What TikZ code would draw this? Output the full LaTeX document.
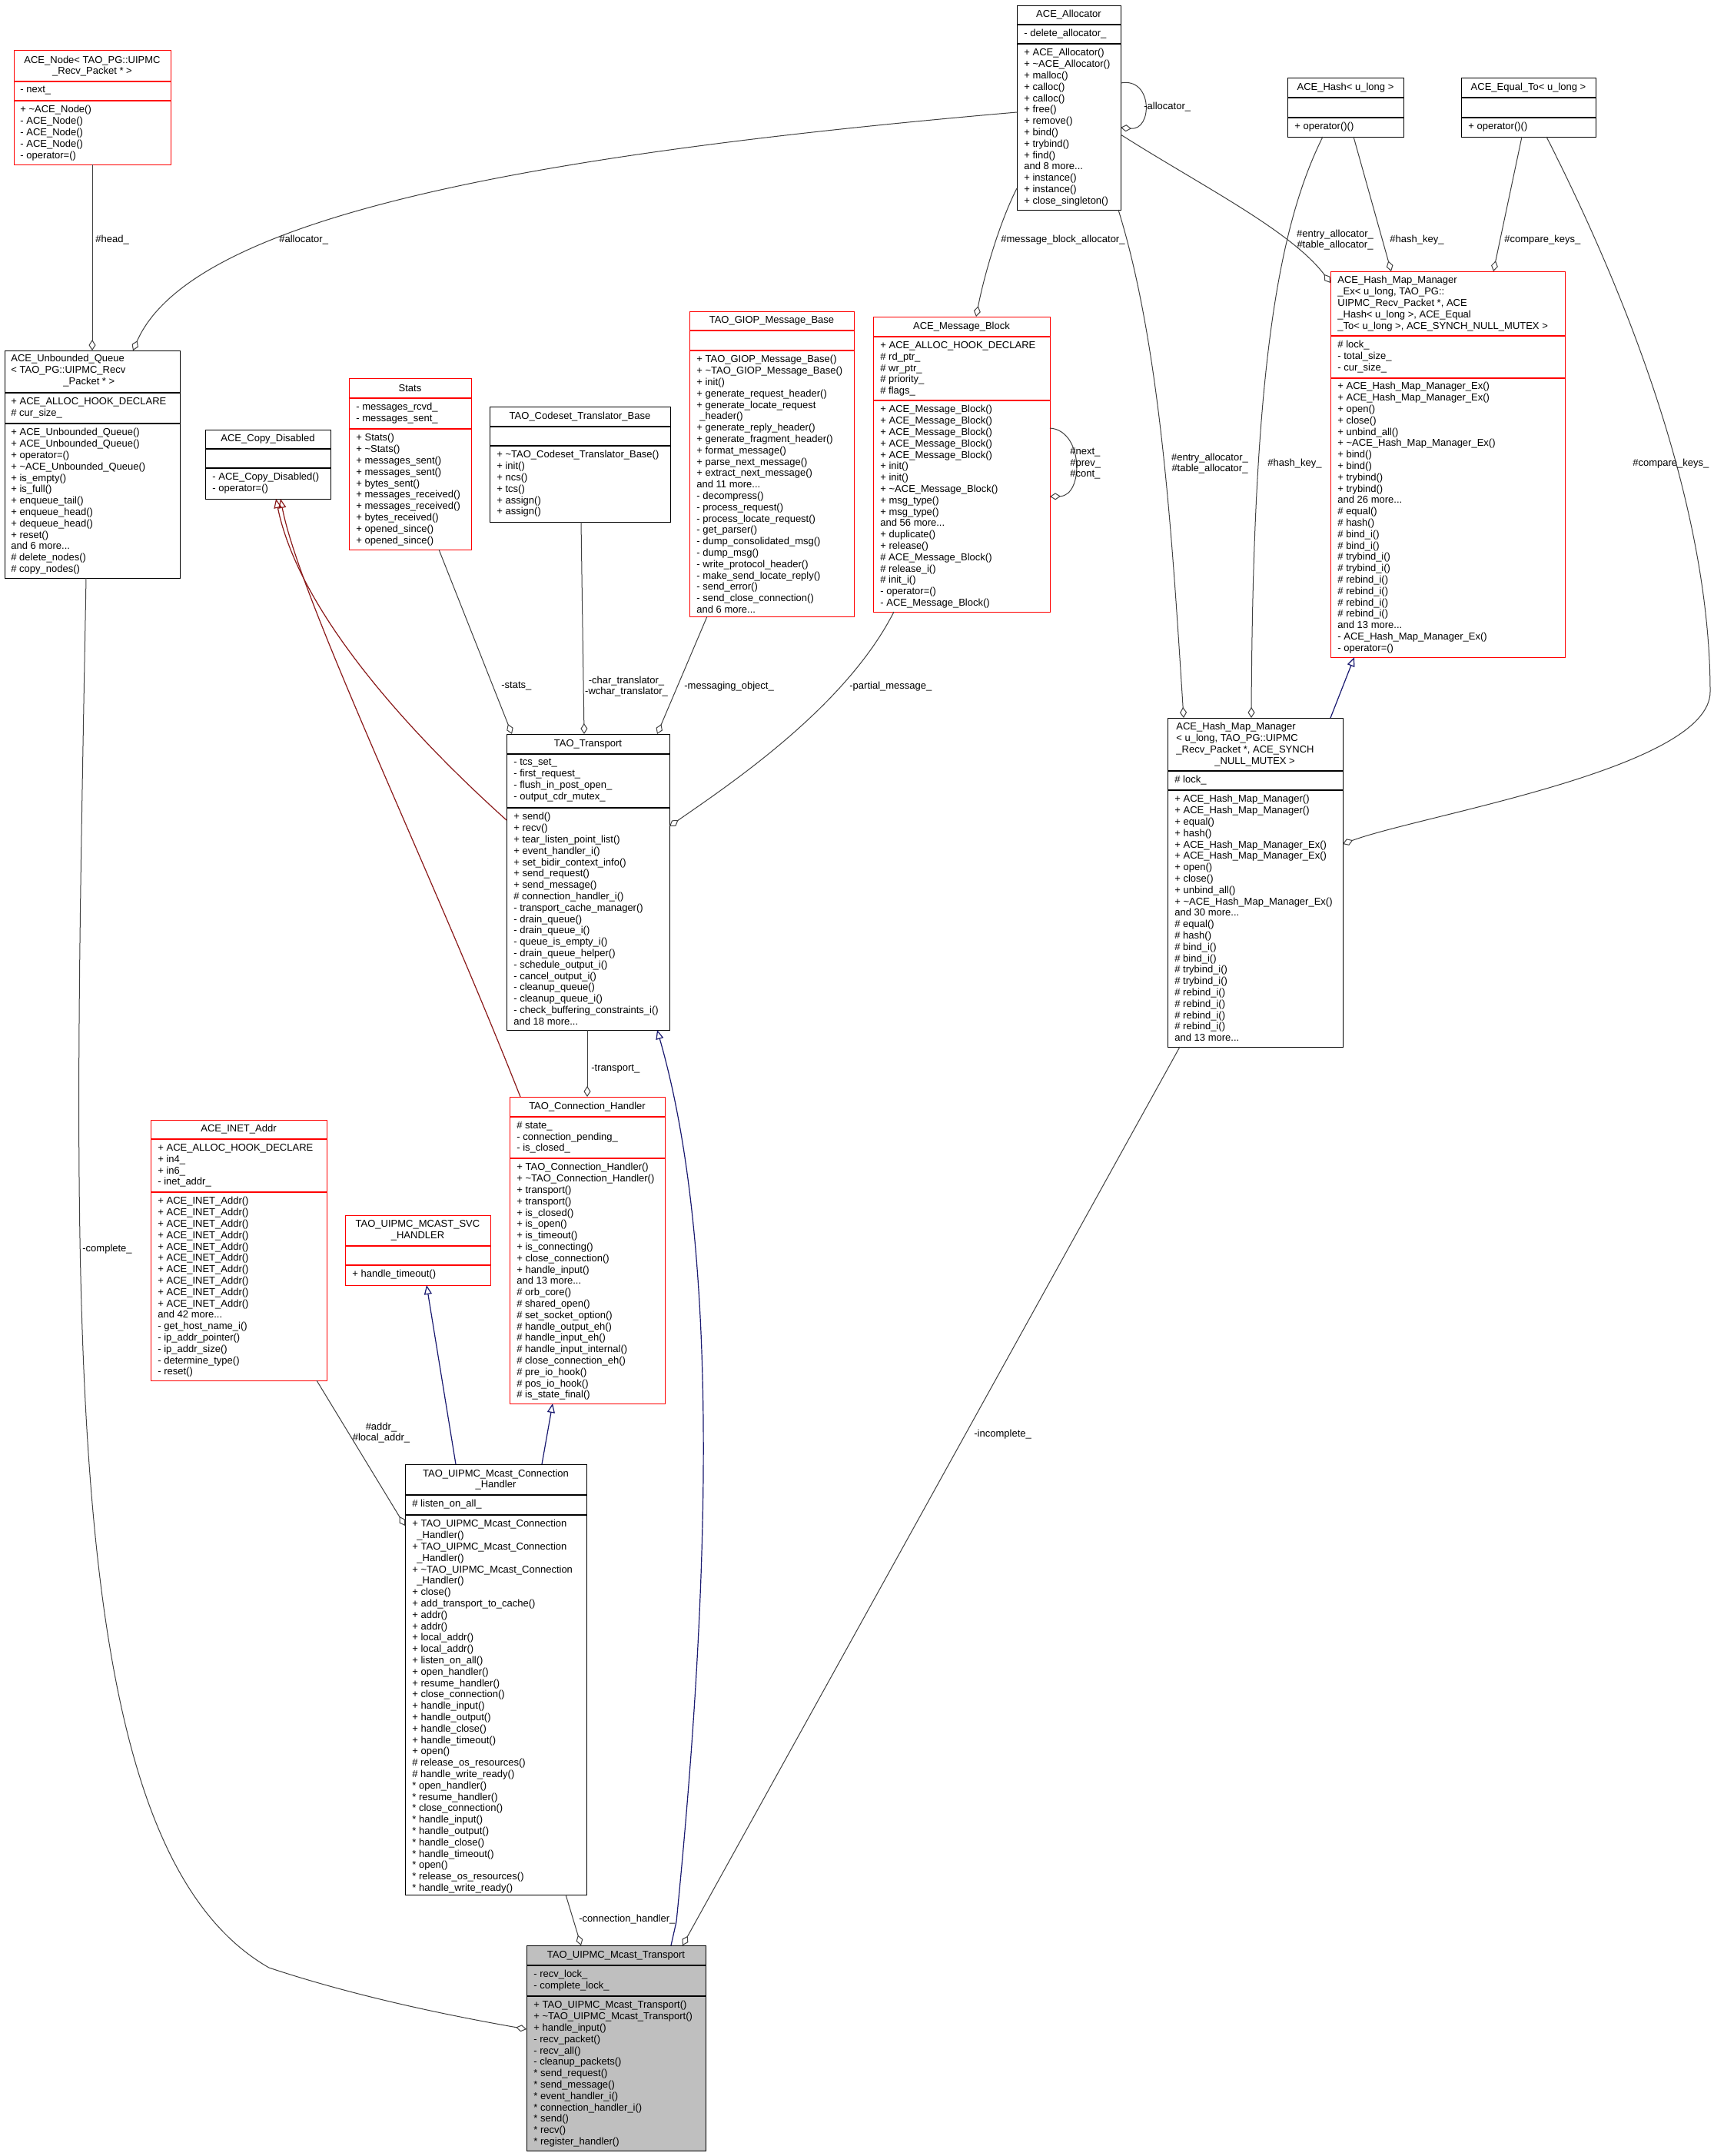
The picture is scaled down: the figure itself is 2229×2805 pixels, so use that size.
\documentclass[tikz,border=0pt]{standalone}
\usepackage{fontspec}
\setmainfont{Liberation Sans}
\usetikzlibrary{arrows.meta,calc}
\definecolor{edgec}{HTML}{404040}
\definecolor{blueedge}{HTML}{191970}
\definecolor{rededge}{HTML}{8B1A1A}
\definecolor{gfill}{HTML}{BFBFBF}
\newcommand\fs{\fontsize{6.5}{7.4}\selectfont}
\newcommand\tl{\textasciitilde}
\newcommand\cls[9]{%
 \node[draw=#8,fill=#9,line width=0.7pt,inner sep=0,anchor=north west,minimum width={(#4-#2)*0.5pt},minimum height={(#5-#3)*0.5pt}] (#1) at (#2,#3) {};
 \draw[#8,line width=0.7pt] (#2,#6) -- (#4,#6) (#2,#7) -- (#4,#7);}
\begin{document}
\begin{tikzpicture}[x=0.5pt,y=-0.5pt,
 tx/.style={anchor=north west,inner sep=0,align=left,font=\fs},
 ttl/.style={anchor=center,inner sep=0,align=center,font=\fs},
 lbl/.style={inner sep=0,align=center,font=\fs},
 agg/.style={draw=edgec,line width=0.5pt,-{Diamond[open,length=7pt,width=4.5pt]}},
 inhb/.style={draw=blueedge,line width=0.6pt,-{Triangle[open,length=6pt,width=5pt]}},
 inhr/.style={draw=rededge,line width=0.6pt,-{Triangle[open,length=6pt,width=5pt]}}]
\path[use as bounding box,fill=white] (0,0) rectangle (2229,2805);

% ---- boxes
\cls{Node}{18}{65}{222}{214}{106}{131}{red}{white}
\node[ttl] at (120,86) {ACE\_Node< TAO\_PG::UIPMC\\\_Recv\_Packet * >};
\node[tx] at (26,112) {- next\_};
\node[tx] at (26,137) {+ \tl ACE\_Node()\\- ACE\_Node()\\- ACE\_Node()\\- ACE\_Node()\\- operator=()};

\cls{UQ}{6}{456}{234}{752}{511}{551}{black}{white}
\node[tx] at (14,461) {ACE\_Unbounded\_Queue\\< TAO\_PG::UIPMC\_Recv\\\hspace*{34pt}\_Packet * >};
\node[tx] at (14,517) {+ ACE\_ALLOC\_HOOK\_DECLARE\\\# cur\_size\_};
\node[tx] at (14,557) {+ ACE\_Unbounded\_Queue()\\+ ACE\_Unbounded\_Queue()\\+ operator=()\\+ \tl ACE\_Unbounded\_Queue()\\+ is\_empty()\\+ is\_full()\\+ enqueue\_tail()\\+ enqueue\_head()\\+ dequeue\_head()\\+ reset()\\and 6 more...\\\# delete\_nodes()\\\# copy\_nodes()};

\cls{CD}{267}{559}{430}{649}{584}{609}{black}{white}
\node[ttl] at (348.5,571.5) {ACE\_Copy\_Disabled};
\node[tx] at (276,615) {- ACE\_Copy\_Disabled()\\- operator=()};

\cls{Stats}{454}{492}{613}{715}{518}{558}{red}{white}
\node[ttl] at (533.5,505) {Stats};
\node[tx] at (463,524) {- messages\_rcvd\_\\- messages\_sent\_};
\node[tx] at (463,564) {+ Stats()\\+ \tl Stats()\\+ messages\_sent()\\+ messages\_sent()\\+ bytes\_sent()\\+ messages\_received()\\+ messages\_received()\\+ bytes\_received()\\+ opened\_since()\\+ opened\_since()};

\cls{Codeset}{637}{529}{872}{679}{555}{580}{black}{white}
\node[ttl] at (754.5,542) {TAO\_Codeset\_Translator\_Base};
\node[tx] at (646,586) {+ \tl TAO\_Codeset\_Translator\_Base()\\+ init()\\+ ncs()\\+ tcs()\\+ assign()\\+ assign()};

\cls{GIOP}{897}{405}{1111}{802}{430}{456}{red}{white}
\node[ttl] at (1004,417.5) {TAO\_GIOP\_Message\_Base};
\node[tx] at (906,462) {+ TAO\_GIOP\_Message\_Base()\\+ \tl TAO\_GIOP\_Message\_Base()\\+ init()\\+ generate\_request\_header()\\+ generate\_locate\_request\\\hspace*{2pt}\_header()\\+ generate\_reply\_header()\\+ generate\_fragment\_header()\\+ format\_message()\\+ parse\_next\_message()\\+ extract\_next\_message()\\and 11 more...\\- decompress()\\- process\_request()\\- process\_locate\_request()\\- get\_parser()\\- dump\_consolidated\_msg()\\- dump\_msg()\\- write\_protocol\_header()\\- make\_send\_locate\_reply()\\- send\_error()\\- send\_close\_connection()\\and 6 more...};

\cls{MB}{1136}{412}{1366}{796}{438}{521}{red}{white}
\node[ttl] at (1251,425) {ACE\_Message\_Block};
\node[tx] at (1145,444) {+ ACE\_ALLOC\_HOOK\_DECLARE\\\# rd\_ptr\_\\\# wr\_ptr\_\\\# priority\_\\\# flags\_};
\node[tx] at (1145,527) {+ ACE\_Message\_Block()\\+ ACE\_Message\_Block()\\+ ACE\_Message\_Block()\\+ ACE\_Message\_Block()\\+ ACE\_Message\_Block()\\+ init()\\+ init()\\+ \tl ACE\_Message\_Block()\\+ msg\_type()\\+ msg\_type()\\and 56 more...\\+ duplicate()\\+ release()\\\# ACE\_Message\_Block()\\\# release\_i()\\\# init\_i()\\- operator=()\\- ACE\_Message\_Block()};

\cls{Alloc}{1323}{7}{1458}{273}{32}{57}{black}{white}
\node[ttl] at (1390.5,19.5) {ACE\_Allocator};
\node[tx] at (1332,38) {- delete\_allocator\_};
\node[tx] at (1332,63) {+ ACE\_Allocator()\\+ \tl ACE\_Allocator()\\+ malloc()\\+ calloc()\\+ calloc()\\+ free()\\+ remove()\\+ bind()\\+ trybind()\\+ find()\\and 8 more...\\+ instance()\\+ instance()\\+ close\_singleton()};

\cls{Hash}{1675}{101}{1826}{178}{127}{153}{black}{white}
\node[ttl] at (1750.5,114) {ACE\_Hash< u\_long >};
\node[tx] at (1684,159) {+ operator()()};

\cls{Eq}{1901}{101}{2076}{178}{127}{153}{black}{white}
\node[ttl] at (1988.5,114) {ACE\_Equal\_To< u\_long >};
\node[tx] at (1910,159) {+ operator()()};

\cls{HMMEx}{1731}{353}{2036}{855}{437}{492}{red}{white}
\node[tx] at (1740,359) {ACE\_Hash\_Map\_Manager\\\_Ex< u\_long, TAO\_PG::\\UIPMC\_Recv\_Packet *, ACE\\\_Hash< u\_long >, ACE\_Equal\\\_To< u\_long >, ACE\_SYNCH\_NULL\_MUTEX >};
\node[tx] at (1740,443) {\# lock\_\\- total\_size\_\\- cur\_size\_};
\node[tx] at (1740,497) {+ ACE\_Hash\_Map\_Manager\_Ex()\\+ ACE\_Hash\_Map\_Manager\_Ex()\\+ open()\\+ close()\\+ unbind\_all()\\+ \tl ACE\_Hash\_Map\_Manager\_Ex()\\+ bind()\\+ bind()\\+ trybind()\\+ trybind()\\and 26 more...\\\# equal()\\\# hash()\\\# bind\_i()\\\# bind\_i()\\\# trybind\_i()\\\# trybind\_i()\\\# rebind\_i()\\\# rebind\_i()\\\# rebind\_i()\\\# rebind\_i()\\and 13 more...\\- ACE\_Hash\_Map\_Manager\_Ex()\\- operator=()};

\cls{HMM}{1519}{934}{1747}{1362}{1003}{1028}{black}{white}
\node[tx] at (1530,940) {ACE\_Hash\_Map\_Manager\\< u\_long, TAO\_PG::UIPMC\\\_Recv\_Packet *, ACE\_SYNCH\\\hspace*{25pt}\_NULL\_MUTEX >};
\node[tx] at (1528,1009) {\# lock\_};
\node[tx] at (1528,1034) {+ ACE\_Hash\_Map\_Manager()\\+ ACE\_Hash\_Map\_Manager()\\+ equal()\\+ hash()\\+ ACE\_Hash\_Map\_Manager\_Ex()\\+ ACE\_Hash\_Map\_Manager\_Ex()\\+ open()\\+ close()\\+ unbind\_all()\\+ \tl ACE\_Hash\_Map\_Manager\_Ex()\\and 30 more...\\\# equal()\\\# hash()\\\# bind\_i()\\\# bind\_i()\\\# trybind\_i()\\\# trybind\_i()\\\# rebind\_i()\\\# rebind\_i()\\\# rebind\_i()\\\# rebind\_i()\\and 13 more...};

\cls{Tr}{659}{955}{871}{1340}{981}{1051}{black}{white}
\node[ttl] at (765,968) {TAO\_Transport};
\node[tx] at (668,987) {- tcs\_set\_\\- first\_request\_\\- flush\_in\_post\_open\_\\- output\_cdr\_mutex\_};
\node[tx] at (668,1057) {+ send()\\+ recv()\\+ tear\_listen\_point\_list()\\+ event\_handler\_i()\\+ set\_bidir\_context\_info()\\+ send\_request()\\+ send\_message()\\\# connection\_handler\_i()\\- transport\_cache\_manager()\\- drain\_queue()\\- drain\_queue\_i()\\- queue\_is\_empty\_i()\\- drain\_queue\_helper()\\- schedule\_output\_i()\\- cancel\_output\_i()\\- cleanup\_queue()\\- cleanup\_queue\_i()\\- check\_buffering\_constraints\_i()\\and 18 more...};

\cls{CH}{663}{1427}{865}{1826}{1453}{1507}{red}{white}
\node[ttl] at (764,1440) {TAO\_Connection\_Handler};
\node[tx] at (672,1459) {\# state\_\\- connection\_pending\_\\- is\_closed\_};
\node[tx] at (672,1513) {+ TAO\_Connection\_Handler()\\+ \tl TAO\_Connection\_Handler()\\+ transport()\\+ transport()\\+ is\_closed()\\+ is\_open()\\+ is\_timeout()\\+ is\_connecting()\\+ close\_connection()\\+ handle\_input()\\and 13 more...\\\# orb\_core()\\\# shared\_open()\\\# set\_socket\_option()\\\# handle\_output\_eh()\\\# handle\_input\_eh()\\\# handle\_input\_internal()\\\# close\_connection\_eh()\\\# pre\_io\_hook()\\\# pos\_io\_hook()\\\# is\_state\_final()};

\cls{INET}{196}{1457}{425}{1796}{1482}{1551}{red}{white}
\node[ttl] at (310.5,1469.5) {ACE\_INET\_Addr};
\node[tx] at (205,1488) {+ ACE\_ALLOC\_HOOK\_DECLARE\\+ in4\_\\+ in6\_\\- inet\_addr\_};
\node[tx] at (205,1557) {+ ACE\_INET\_Addr()\\+ ACE\_INET\_Addr()\\+ ACE\_INET\_Addr()\\+ ACE\_INET\_Addr()\\+ ACE\_INET\_Addr()\\+ ACE\_INET\_Addr()\\+ ACE\_INET\_Addr()\\+ ACE\_INET\_Addr()\\+ ACE\_INET\_Addr()\\+ ACE\_INET\_Addr()\\and 42 more...\\- get\_host\_name\_i()\\- ip\_addr\_pointer()\\- ip\_addr\_size()\\- determine\_type()\\- reset()};

\cls{SVC}{449}{1581}{638}{1672}{1621}{1646}{red}{white}
\node[ttl] at (543.5,1601) {TAO\_UIPMC\_MCAST\_SVC\\\_HANDLER};
\node[tx] at (458,1652) {+ handle\_timeout()};

\cls{MCH}{527}{1905}{763}{2465}{1945}{1971}{black}{white}
\node[ttl] at (645,1925) {TAO\_UIPMC\_Mcast\_Connection\\\_Handler};
\node[tx] at (536,1951) {\# listen\_on\_all\_};
\node[tx] at (536,1977) {+ TAO\_UIPMC\_Mcast\_Connection\\\hspace*{3pt}\_Handler()\\+ TAO\_UIPMC\_Mcast\_Connection\\\hspace*{3pt}\_Handler()\\+ \tl TAO\_UIPMC\_Mcast\_Connection\\\hspace*{3pt}\_Handler()\\+ close()\\+ add\_transport\_to\_cache()\\+ addr()\\+ addr()\\+ local\_addr()\\+ local\_addr()\\+ listen\_on\_all()\\+ open\_handler()\\+ resume\_handler()\\+ close\_connection()\\+ handle\_input()\\+ handle\_output()\\+ handle\_close()\\+ handle\_timeout()\\+ open()\\\# release\_os\_resources()\\\# handle\_write\_ready()\\* open\_handler()\\* resume\_handler()\\* close\_connection()\\* handle\_input()\\* handle\_output()\\* handle\_close()\\* handle\_timeout()\\* open()\\* release\_os\_resources()\\* handle\_write\_ready()};

\cls{MT}{685}{2531}{918}{2798}{2557}{2597}{black}{gfill}
\node[ttl] at (801.5,2544) {TAO\_UIPMC\_Mcast\_Transport};
\node[tx] at (694,2563) {- recv\_lock\_\\- complete\_lock\_};
\node[tx] at (694,2603) {+ TAO\_UIPMC\_Mcast\_Transport()\\+ \tl TAO\_UIPMC\_Mcast\_Transport()\\+ handle\_input()\\- recv\_packet()\\- recv\_all()\\- cleanup\_packets()\\* send\_request()\\* send\_message()\\* event\_handler\_i()\\* connection\_handler\_i()\\* send()\\* recv()\\* register\_handler()};

% ---- connectors
\draw[agg] ($(Node.north west)+(102,149)$) -- ($(UQ.north west)+(114,0)$);
\node[lbl,anchor=west] at (124,312) {\#head\_};

\draw[agg] ($(Alloc.north west)+(0,139)$) .. controls (700,200) and (250,280) .. ($(UQ.north west)+(167,0)$);
\node[lbl,anchor=west] at (363,312) {\#allocator\_};

\draw[agg] ($(Alloc.north west)+(135,101)$) .. controls (1500,100) and (1500,170) .. ($(Alloc.north west)+(135,159)$);
\node[lbl,anchor=west] at (1488,139) {-allocator\_};

\draw[agg] ($(Alloc.north west)+(0,238)$) .. controls (1300,290) and (1280,360) .. ($(MB.north west)+(134,0)$);
\node[lbl,anchor=west] at (1302,312) {\#message\_block\_allocator\_};

\draw[agg] ($(Alloc.north west)+(135,168)$) .. controls (1560,240) and (1680,300) .. ($(HMMEx.north west)+(0,15)$);
\node[lbl] at (1737,312) {\#entry\_allocator\_\\\#table\_allocator\_};

\draw[agg] ($(Alloc.north west)+(132,266)$) .. controls (1510,450) and (1525,700) .. ($(HMM.north west)+(21,0)$);
\node[lbl] at (1574,603) {\#entry\_allocator\_\\\#table\_allocator\_};

\draw[agg] ($(Hash.north west)+(86,77)$) -- ($(HMMEx.north west)+(79,0)$);
\node[lbl,anchor=west] at (1808,312) {\#hash\_key\_};

\draw[agg] ($(Hash.north west)+(46,77)$) .. controls (1660,300) and (1630,500) .. ($(HMM.north west)+(109,0)$);
\node[lbl,anchor=west] at (1649,603) {\#hash\_key\_};

\draw[agg] ($(Eq.north west)+(79,77)$) -- ($(HMMEx.north west)+(212,0)$);
\node[lbl,anchor=west] at (1957,312) {\#compare\_keys\_};

\draw[agg] ($(Eq.north west)+(111,77)$) .. controls (2150,450) and (2225,700) .. (2225,900) .. controls (2225,1000) and (1850,1060) .. ($(HMM.north west)+(228,164)$);
\node[lbl,anchor=west] at (2124,603) {\#compare\_keys\_};

\draw[inhb] ($(HMM.north west)+(212,0)$) -- ($(HMMEx.north west)+(31,502)$);

\draw[agg] ($(MB.north west)+(230,145)$) .. controls (1410,560) and (1410,645) .. ($(MB.north west)+(230,234)$);
\node[lbl,anchor=west,align=left] at (1392,603) {\#next\_\\\#prev\_\\\#cont\_};

\draw[agg] ($(MB.north west)+(27,384)$) .. controls (1100,920) and (950,1020) .. ($(Tr.north west)+(212,120)$);
\node[lbl,anchor=west] at (1105,893) {-partial\_message\_};

\draw[agg] ($(GIOP.north west)+(23,397)$) -- ($(Tr.north west)+(196,0)$);
\node[lbl,anchor=west] at (890,893) {-messaging\_object\_};

\draw[agg] ($(Codeset.north west)+(119,150)$) -- ($(Tr.north west)+(101,0)$);
\node[lbl] at (815,893) {-char\_translator\_\\-wchar\_translator\_};

\draw[agg] ($(Stats.north west)+(117,223)$) -- ($(Tr.north west)+(7,0)$);
\node[lbl,anchor=west] at (652,893) {-stats\_};

\draw[inhr] ($(Tr.north west)+(0,112)$) .. controls (540,960) and (390,800) .. ($(CD.north west)+(92,90)$);
\draw[inhr] ($(CH.north west)+(14,0)$) .. controls (560,1130) and (390,780) .. ($(CD.north west)+(98,90)$);

\draw[agg] ($(Tr.north west)+(105,385)$) -- ($(CH.north west)+(101,0)$);
\node[lbl,anchor=west] at (769,1391) {-transport\_};

\draw[inhb] ($(MT.north west)+(188,0)$) -- (880,2500) .. controls (930,2000) and (930,1600) .. ($(Tr.north west)+(196,385)$);

\draw[inhb] ($(MCH.north west)+(66,0)$) -- ($(SVC.north west)+(106,91)$);
\draw[inhb] ($(MCH.north west)+(178,0)$) -- ($(CH.north west)+(56,399)$);

\draw[agg] ($(INET.north west)+(216,339)$) -- (519,1972) -- ($(MCH.north west)+(0,80)$);
\node[lbl] at (496,1864) {\#addr\_\\\#local\_addr\_};

\draw[agg] ($(MCH.north west)+(209,560)$) -- ($(MT.north west)+(71,0)$);
\node[lbl,anchor=west] at (753,2497) {-connection\_handler\_};

\draw[agg] ($(HMM.north west)+(16,428)$) -- ($(MT.north west)+(203,0)$);
\node[lbl,anchor=west] at (1267,1866) {-incomplete\_};

\draw[agg] ($(UQ.north west)+(106,296)$) .. controls (95,1700) and (70,2400) .. (350,2560) .. controls (470,2600) and (600,2625) .. ($(MT.north west)+(0,109)$);
\node[lbl,anchor=west] at (107,1625) {-complete\_};
\end{tikzpicture}
\end{document}
